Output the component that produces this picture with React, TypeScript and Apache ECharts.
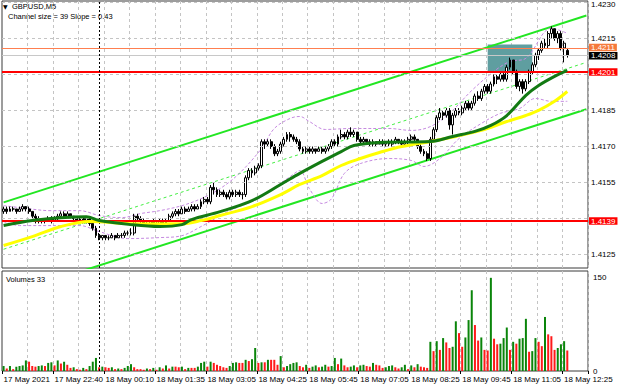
import React, { useEffect, useRef } from 'react';
import * as echarts from 'echarts';

// Prices are stored in pips above 1.4100
const PRICE_BASE = 1.41;

const SHIFT_BARS = 6;

// [open, close, low, high] in pips above 1.4100, M5 bars
const candles: number[][] = [
  [43,44,42,45],[44,43,42,45],[43,44,43,45],[44,44,43,45],[44,43,42,44],[43,44,43,45],[44,45,43,46],[45,44,43,45],
  [44,43,42,45],[43,41,40,43],[41,39,38,42],[39,40,38,41],[40,39,38,40],[39,39,38,40],[39,40,39,41],[40,39,38,41],
  [39,40,39,41],[40,41,39,42],[41,42,40,43],[42,41,40,43],[41,42,41,43],[42,41,40,42],[41,40,39,41],[40,39,38,41],
  [39,40,38,41],[40,39,38,40],[39,40,38,41],[40,38,37,40],[38,36,35,39],[36,33,32,37],[33,32,31,34],[32,33,31,33],
  [33,32,31,33],[32,32,31,33],[32,33,32,34],[33,32,31,33],[32,33,32,34],[33,33,32,34],[33,34,32,35],[34,34,33,35],
  [34,34,33,36],[34,41,33,42],[41,40,39,42],[40,39,38,41],[39,38,37,40],[38,38,37,39],[38,39,37,39],[39,38,37,40],
  [38,38,37,39],[38,39,38,40],[39,38,37,40],[38,39,38,40],[39,41,39,42],[41,42,40,43],[42,43,41,44],[43,42,41,44],
  [42,44,42,45],[44,43,42,45],[43,44,43,45],[44,45,43,46],[45,44,43,46],[44,45,44,46],[45,47,44,48],[47,48,46,49],
  [48,47,46,49],[47,53,46,54],[53,52,50,55],[52,50,49,53],[50,51,49,52],[51,50,49,52],[50,49,48,51],[49,51,48,52],
  [51,50,49,52],[50,51,49,52],[51,50,49,52],[50,50,48,51],[50,57,49,58],[57,60,56,61],[60,59,57,61],[59,61,58,62],
  [61,62,60,63],[62,72,61,73],[72,71,69,73],[71,72,70,73],[72,70,69,73],[70,67,66,71],[67,68,66,69],[68,71,67,72],
  [71,73,70,74],[73,75,72,76],[75,74,72,76],[74,73,72,75],[73,72,71,74],[72,69,68,73],[69,68,67,70],[68,69,67,70],
  [69,68,67,70],[68,69,67,70],[69,68,67,69],[68,69,68,70],[69,68,67,70],[68,69,67,70],[69,70,68,71],[70,72,69,73],
  [72,71,70,73],[71,74,70,75],[74,75,73,77],[75,74,73,76],[74,76,73,77],[76,75,74,78],[75,76,74,77],[76,73,72,76],
  [73,72,71,74],[72,73,71,74],[73,72,71,73],[72,71,70,73],[71,72,70,73],[72,71,70,72],[71,72,71,73],[72,71,70,73],
  [71,72,70,72],[72,71,70,73],[71,72,70,73],[72,73,71,74],[73,72,71,73],[72,71,70,73],[71,72,70,73],[72,73,71,74],
  [73,74,72,75],[74,73,72,75],[73,70,69,73],[70,68,67,71],[68,67,66,69],[67,65,64,68],[65,73,64,74],[73,77,72,78],
  [77,82,76,83],[82,84,81,86],[84,83,81,85],[83,85,82,86],[85,79,77,86],[79,83,75,84],[83,85,82,86],[85,84,83,86],
  [84,86,83,87],[86,88,85,89],[88,86,85,89],[86,88,85,89],[88,91,87,92],[91,90,89,93],[90,93,89,94],[93,95,92,96],
  [95,93,92,96],[93,96,92,97],[96,99,95,100],[99,98,96,100],[98,100,97,101],[100,98,97,101],[98,103,97,104],[103,106,102,107],
  [106,101,100,106],[101,95,94,102],[95,97,93,98],[97,94,92,98],[94,97,93,98],[97,101,96,102],[101,104,100,105],[104,108,103,109],
  [108,110,106,111],[110,113,109,114],[113,112,111,115],[112,117,111,118],[117,119,115,120],[119,115,114,119],[115,117,113,118],[117,111,110,118],
  [111,113,105,114],[110,108,107,111]
];

const volumes: number[] = [
  8,4,8,3,7,8,9,17,15,8,7,8,9,8,13,14,9,17,12,15,10,5,6,3,2,5,3,8,15,21,
  6,7,6,5,6,3,4,3,5,8,11,6,3,3,2,4,3,5,2,6,4,9,4,7,7,6,7,3,5,5,
  5,7,13,15,7,15,13,10,8,6,5,8,13,14,13,13,18,16,19,37,13,14,14,18,18,18,10,24,6,8,
  11,13,14,8,6,10,5,7,9,6,7,10,7,8,21,11,20,9,6,7,9,6,9,10,8,7,13,10,9,5,
  6,8,9,6,4,6,10,3,9,6,11,7,6,5,
  47,32,48,34,53,46,37,39,80,61,39,54,82,130,74,49,54,34,33,150,52,43,44,53,70,34,47,44,52,53,
  84,31,32,53,47,40,87,59,56,34,37,43,48,33
];

// time labels, one every 16 bars
const tickLabels = [
  '17 May 2021', '17 May 22:40', '18 May 00:10', '18 May 01:35', '18 May 03:05', '18 May 04:25',
  '18 May 05:45', '18 May 07:05', '18 May 08:25', '18 May 09:45', '18 May 11:05', '18 May 12:25'
];

// price grid levels (pips above 1.4100); 1.4140 and 1.4200 labels are covered by level boxes
const gridLevels = [25, 40, 55, 70, 85, 100, 115, 130];
const hiddenGridLabels = [40, 100];

// indicator readings: [bar index, pips above 1.4100]
const greenMA = [[0,37.1],[9,39.2],[18,40.4],[26,40.8],[30,39.2],[40,37.5],[49,36.7],[56,37.5],[59,39.6],[68,42.9],[78,47.5],[87,54.2],[93,58.8],[100,63.8],[106,67.9],[110,70.4],[118,71.7],[134,72.1],[141,74.2],[148,76.3],[153,78.8],[158,82.9],[164,91.3],[168,95.4],[173,99.2],[177,101.7]];
const yellowMA = [[0,28.8],[9,32.5],[18,36.7],[27,38.8],[40,37.9],[56,37.9],[62,39.2],[68,41.3],[78,45],[87,50],[93,54.2],[100,57.9],[106,62.1],[112,65],[118,67.5],[125,70],[134,72.1],[142,74.2],[150,76.7],[158,80.4],[164,82.9],[168,85],[173,88.8],[177,92.9]];
const envUpper = [[0,45.4],[5,44.6],[15,43.3],[24,43.3],[30,41.3],[37,40.4],[43,42.1],[49,43.3],[56,45.4],[62,48.3],[68,52.5],[74,58.8],[81,69.2],[85,77.5],[90,81.7],[93,82.5],[96,80.4],[101,77.1],[109,77.5],[121,77.5],[128,76.7],[134,78.3],[140,83.8],[147,93.3],[154,101.3],[159,105.4],[164,106.7],[172,119.2],[177,117.1]];
const envLower = [[0,38.8],[5,37.1],[24,37.1],[30,34.6],[39,31.7],[49,32.1],[56,32.9],[62,36.7],[71,43.3],[80,48.3],[86,53.8],[90,57.5],[93,60],[96,52.5],[100,46.3],[103,48.3],[107,58.8],[112,62.9],[121,65],[128,64.2],[132,61.7],[137,65],[143,73.3],[150,79.6],[156,83.8],[162,85.8],[167,90],[172,88.8],[177,88.8]];

// regression channel (size 39, slope 0.43)
const channelUpper = [[0,46.75],[183,124.5]];
const channelMiddle = [[0,27.25],[183,105]];
const channelLower = [[0,7.75],[183,85.5]];

// horizontal levels (pips above 1.4100)
const levels = { resistance: 101, support: 39, orange: 111, bid: 108 };
const box = { fromBar: 152, toBar: 166, low: 101, high: 112.5 };
const separatorBar = 29.5;

const fmtPrice = (pips: number) => (PRICE_BASE + pips / 10000).toFixed(4);

export default function App() {
  const ref = useRef<HTMLDivElement>(null);
  useEffect(() => {
    if (!ref.current) return;
    const chart = echarts.init(ref.current, undefined, { renderer: 'svg' });
    const n = candles.length + SHIFT_BARS;
    const cats = Array.from({ length: n }, (_, i) => String(i));
    const FONT = 'Liberation Sans';
    const gridLine = { show: true, lineStyle: { color: '#c4c4c4', type: [3, 3] as any, width: 1 } };
    const vSplit = { ...gridLine, interval: (i: number) => i > 0 && i % 8 === 0 };
    const levelLabel = (text: string, bg: string, dy = 0) => ({
      show: true, position: 'end', distance: 1, formatter: text, backgroundColor: bg, color: '#fff',
      fontSize: 8, fontFamily: FONT, padding: [0, 2, 0, 2], lineHeight: 7.5, offset: [0, dy],
    });

    chart.setOption({
      animation: false,
      textStyle: { fontFamily: FONT },
      grid: [
        { left: 2, top: 1, width: 586, height: 267, show: true, borderColor: '#3a3a3a', borderWidth: 1, backgroundColor: '#fff' },
        { left: 2, top: 271, width: 586, height: 100, show: true, borderColor: '#3a3a3a', borderWidth: 1, backgroundColor: '#fff' },
      ],
      xAxis: [
        { type: 'category', gridIndex: 0, data: cats, boundaryGap: true, axisLine: { show: false }, axisTick: { show: false }, axisLabel: { show: false }, splitLine: vSplit },
        {
          type: 'category', gridIndex: 1, data: cats, boundaryGap: true, axisLine: { show: false },
          axisTick: { show: true, length: 3, interval: (i: number) => i % 16 === 0 && i < candles.length, lineStyle: { color: '#000' } },
          axisLabel: {
            show: true, interval: (i: number) => i % 16 === 0 && i < candles.length, align: 'left', margin: 4,
            fontSize: 8, color: '#000', fontFamily: FONT,
            formatter: (_v: string, i: number) => tickLabels[i / 16] ?? '',
          },
          splitLine: vSplit,
        },
      ],
      yAxis: [
        {
          type: 'value', gridIndex: 0, position: 'right', min: 19.45, max: 130.55,
          axisLine: { show: false }, axisTick: { show: false }, axisLabel: { show: false }, splitLine: { show: false },
        },
        {
          type: 'value', gridIndex: 1, position: 'right', min: 0, max: 161, interval: 150,
          axisLine: { show: false }, axisTick: { show: false }, splitLine: { show: false },
          axisLabel: { fontSize: 8, color: '#000', margin: 5, fontFamily: FONT, formatter: (v: number) => (v % 150 === 0 ? String(v) : '') },
        },
      ],
      graphic: [
        { type: 'text', left: 3, top: 3, style: { text: '▼', fontSize: 6, fill: '#000', fontFamily: 'DejaVu Sans' } },
        { type: 'text', left: 12, top: 2, style: { text: 'GBPUSD,M5', fontSize: 7.5, fill: '#000', fontFamily: FONT } },
        { type: 'text', left: 8, top: 12, style: { text: 'Channel size = 39 Slope = 0.43', fontSize: 7.5, fill: '#000', fontFamily: FONT } },
        { type: 'text', left: 6, top: 275, style: { text: 'Volumes ' + volumes[volumes.length - 1], fontSize: 7.5, fill: '#000', fontFamily: FONT } },
      ],
      series: [
        {
          type: 'line', xAxisIndex: 0, yAxisIndex: 0, data: [], z: 0, silent: true,
          markLine: {
            silent: true, symbol: ['none', 'none'],
            data: gridLevels.map((g) => ({
              yAxis: g,
              lineStyle: { color: '#c4c4c4', width: 1, type: [3, 3] },
              label: {
                show: !hiddenGridLabels.includes(g), position: 'end', distance: 3, formatter: fmtPrice(g),
                color: '#000', fontSize: 8, fontFamily: FONT, offset: [0, g === 130 ? 2 : 0],
              },
            })),
          },
        },
        {
          type: 'line', xAxisIndex: 0, yAxisIndex: 0, data: [], z: 1, silent: true,
          markArea: {
            silent: true, itemStyle: { color: '#5f9ea0' },
            data: [[{ xAxis: box.fromBar, yAxis: box.low }, { xAxis: box.toBar, yAxis: box.high }]],
          },
        },
        { type: 'line', xAxisIndex: 0, yAxisIndex: 0, data: channelUpper, symbol: 'none', z: 2, lineStyle: { color: '#22e622', width: 2 }, clip: true, silent: true },
        { type: 'line', xAxisIndex: 0, yAxisIndex: 0, data: channelMiddle, symbol: 'none', z: 2, lineStyle: { color: '#44ee44', width: 1, type: [3, 3] }, clip: true, silent: true },
        { type: 'line', xAxisIndex: 0, yAxisIndex: 0, data: channelLower, symbol: 'none', z: 2, lineStyle: { color: '#22e622', width: 2 }, clip: true, silent: true },
        { type: 'line', xAxisIndex: 0, yAxisIndex: 0, data: envUpper, symbol: 'none', smooth: 0.35, z: 3, lineStyle: { color: '#c58ae0', width: 1, type: [3, 2] }, silent: true },
        { type: 'line', xAxisIndex: 0, yAxisIndex: 0, data: envLower, symbol: 'none', smooth: 0.35, z: 3, lineStyle: { color: '#c58ae0', width: 1, type: [3, 2] }, silent: true },
        {
          type: 'candlestick', xAxisIndex: 0, yAxisIndex: 0, z: 4, barWidth: 2.4, silent: true,
          data: candles,
          itemStyle: { color: '#ffffff', color0: '#000000', borderColor: '#000000', borderColor0: '#000000', borderWidth: 1 },
        },
        { type: 'line', xAxisIndex: 0, yAxisIndex: 0, data: yellowMA, symbol: 'none', smooth: 0.35, z: 5, lineStyle: { color: '#ffff00', width: 3 }, silent: true },
        { type: 'line', xAxisIndex: 0, yAxisIndex: 0, data: greenMA, symbol: 'none', smooth: 0.35, z: 5, lineStyle: { color: '#137a13', width: 3 }, silent: true },
        {
          type: 'line', xAxisIndex: 0, yAxisIndex: 0, data: [], z: 6, silent: true,
          markLine: {
            silent: true, symbol: ['none', 'none'],
            data: [
              { yAxis: levels.bid, lineStyle: { color: '#c8c8c8', width: 1, type: 'solid' }, label: levelLabel(fmtPrice(levels.bid), '#000000', 0.5) },
              { yAxis: levels.orange, lineStyle: { color: '#ff7f50', width: 1, type: 'solid' }, label: levelLabel(fmtPrice(levels.orange), '#f5793b', -0.5) },
              { yAxis: levels.resistance, lineStyle: { color: '#ff0000', width: 2, type: 'solid' }, label: levelLabel(fmtPrice(levels.resistance), '#ff0000') },
              { yAxis: levels.support, lineStyle: { color: '#ff0000', width: 2, type: 'solid' }, label: levelLabel(fmtPrice(levels.support), '#ff0000') },
              { xAxis: separatorBar, lineStyle: { color: '#000', width: 1, type: [2, 2] }, label: { show: false } },
            ],
          },
        },
        {
          type: 'bar', xAxisIndex: 1, yAxisIndex: 1, barWidth: 2, silent: true,
          data: volumes.map((v, i) => ({ value: v, itemStyle: { color: i === 0 || v > volumes[i - 1] ? '#0a850a' : '#ff1a1a' } })),
          markLine: {
            silent: true, symbol: ['none', 'none'],
            data: [{ xAxis: separatorBar, lineStyle: { color: '#000', width: 1, type: [2, 2] }, label: { show: false } }],
          },
        },
      ],
    });
    return () => chart.dispose();
  }, []);
  return <div ref={ref} style={{ position: 'fixed', left: 0, top: 0, width: 620, height: 388, background: '#fff' }} />;
}
